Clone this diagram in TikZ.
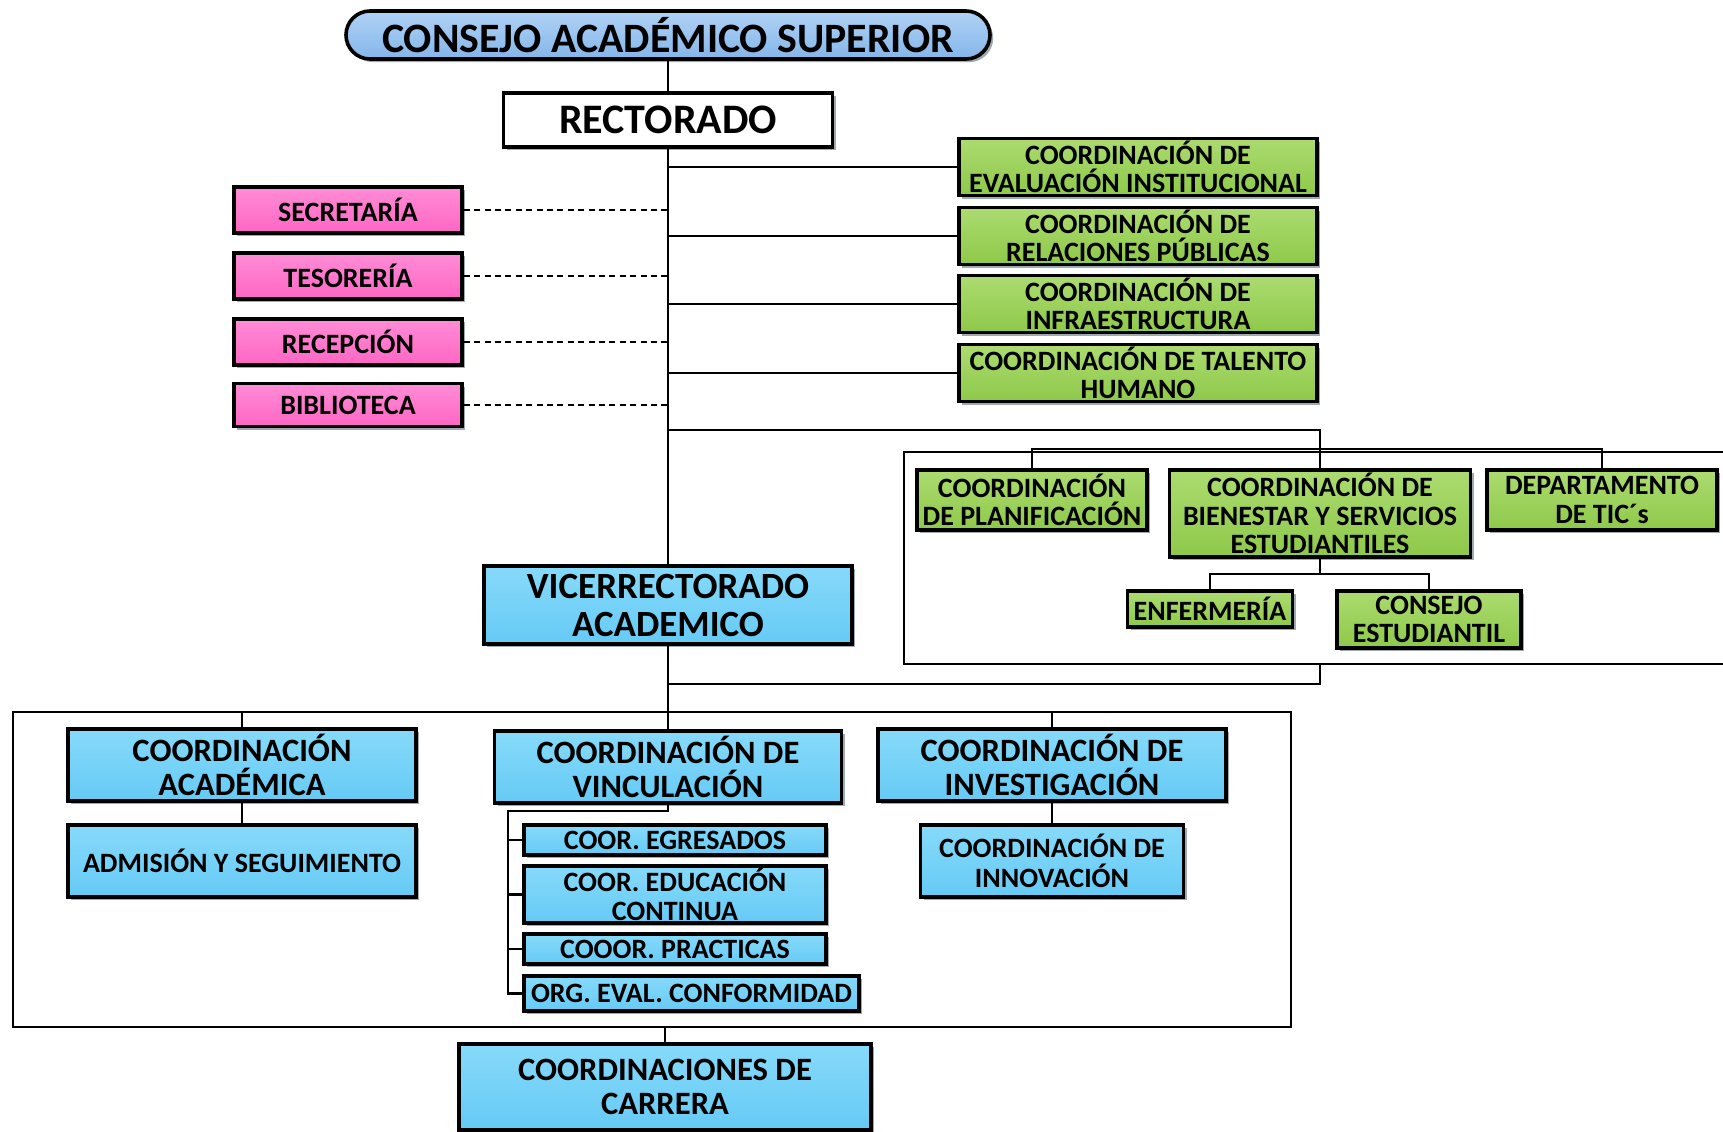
\documentclass[tikz,border=0pt]{standalone}
\usepackage{fontspec}
\setmainfont{Carlito}
\usetikzlibrary{shadows}

\definecolor{bluetop}{RGB}{134,218,250}
\definecolor{bluebot}{RGB}{102,202,245}
\definecolor{greentop}{RGB}{172,219,112}
\definecolor{greenbot}{RGB}{142,201,74}
\definecolor{pinktop}{RGB}{255,140,214}
\definecolor{pinkbot}{RGB}{255,102,196}
\definecolor{headtop}{RGB}{176,210,245}
\definecolor{headbot}{RGB}{132,182,234}
\definecolor{shadowgray}{RGB}{150,160,168}

\tikzset{
  box/.style={draw=black, line width=1.8pt, inner sep=0pt, align=center,
    drop shadow={shadow xshift=1.6pt, shadow yshift=-1.6pt, fill=shadowgray, opacity=0.9}},
  bluebox/.style={box, top color=bluetop, bottom color=bluebot},
  greenbox/.style={box, top color=greentop, bottom color=greenbot},
  pinkbox/.style={box, top color=pinktop, bottom color=pinkbot},
  orgline/.style={line width=1.4pt, black},
  dotline/.style={line width=1.4pt, black, dash pattern=on 3pt off 2.2pt},
  txtbig/.style={font=\bfseries\fontsize{18.5}{19}\selectfont},
  txtmid/.style={font=\bfseries\fontsize{16.3}{17}\selectfont},
  txtsmall/.style={font=\bfseries\fontsize{14}{14.3}\selectfont}
}

\begin{document}
\begin{tikzpicture}[x=0.5pt,y=-0.5pt]
\useasboundingbox (0,0) rectangle (1723,1131);

% top of the chart
\node[box, rounded corners=12pt, top color=headtop, bottom color=headbot,
  minimum width=322pt, minimum height=24pt,
  font=\bfseries\fontsize{20.9}{22}\selectfont] (consejo) at (668,35) {CONSEJO ACADÉMICO SUPERIOR};
\node[box, fill=white, minimum width=164.5pt, minimum height=27pt,
  font=\bfseries\fontsize{21}{24}\selectfont] (rector) at (668,120) {RECTORADO};

% staff offices (left)
\node[pinkbox, txtsmall, minimum width=114pt, minimum height=23pt] (sec) at (348,210) {SECRETARÍA};
\node[pinkbox, txtsmall, minimum width=114pt, minimum height=23pt] (tes) at (348,276) {TESORERÍA};
\node[pinkbox, txtsmall, minimum width=114pt, minimum height=23pt] (rec) at (348,342) {RECEPCIÓN};
\node[pinkbox, txtsmall, minimum width=114pt, minimum height=21.5pt] (bib) at (348,405) {BIBLIOTECA};

% coordinations (right)
\node[greenbox, txtsmall, minimum width=179pt, minimum height=28.5pt] (ev) at (1138,167) {COORDINACIÓN DE\\EVALUACIÓN INSTITUCIONAL};
\node[greenbox, txtsmall, minimum width=179pt, minimum height=28.5pt] (rp) at (1138,236) {COORDINACIÓN DE\\RELACIONES PÚBLICAS};
\node[greenbox, txtsmall, minimum width=179pt, minimum height=28.5pt] (inf) at (1138,304) {COORDINACIÓN DE\\INFRAESTRUCTURA};
\node[greenbox, txtsmall, minimum width=179pt, minimum height=28.5pt] (th) at (1138,373) {COORDINACIÓN DE TALENTO\\HUMANO};

% planning and student services
\node[greenbox, txtsmall, minimum width=115pt, minimum height=30pt] (plan) at (1032,500) {COORDINACIÓN\\DE PLANIFICACIÓN};
\node[greenbox, txtsmall, minimum width=150.5pt, minimum height=43.5pt] (bien) at (1320,513.5) {COORDINACIÓN DE\\BIENESTAR Y SERVICIOS\\ESTUDIANTILES};
\node[greenbox, txtsmall, minimum width=115pt, minimum height=30pt] (tic) at (1602,500) {DEPARTAMENTO\\DE TIC´s};
\node[greenbox, txtsmall, minimum width=82.5pt, minimum height=18pt] (enf) at (1210,609) {ENFERMERÍA};
\node[greenbox, txtsmall, minimum width=92pt, minimum height=28.5pt] (cest) at (1429,619.5) {CONSEJO\\ESTUDIANTIL};

\node[bluebox, txtbig, minimum width=184pt, minimum height=39pt] (vice) at (668,605) {VICERRECTORADO\\ACADEMICO};

% academic area
\node[bluebox, txtmid, minimum width=174pt, minimum height=36pt] (acad) at (242,765) {COORDINACIÓN\\ACADÉMICA};
\node[bluebox, txtsmall, minimum width=174pt, minimum height=36pt] (admis) at (242,861) {ADMISIÓN Y SEGUIMIENTO};
\node[bluebox, txtmid, minimum width=173.5pt, minimum height=36pt] (vinc) at (668,767) {COORDINACIÓN DE\\VINCULACIÓN};
\node[bluebox, txtmid, minimum width=174pt, minimum height=36pt] (invest) at (1052,765) {COORDINACIÓN DE\\INVESTIGACIÓN};
\node[bluebox, font=\bfseries\fontsize{14}{14.8}\selectfont, minimum width=131.5pt, minimum height=36pt] (innov) at (1052,861) {COORDINACIÓN DE\\INNOVACIÓN};

\node[bluebox, txtsmall, minimum width=151pt, minimum height=15pt] (egr) at (675,840) {COOR. EGRESADOS};
\node[bluebox, txtsmall, minimum width=151pt, minimum height=28.5pt] (edu) at (675,894.5) {COOR. EDUCACIÓN\\CONTINUA};
\node[bluebox, txtsmall, minimum width=151pt, minimum height=15pt] (pra) at (675,949) {COOOR. PRACTICAS};
\node[bluebox, txtsmall, minimum width=167.5pt, minimum height=17.5pt] (org) at (691.5,993.5) {ORG. EVAL. CONFORMIDAD};

\node[bluebox, txtmid, minimum width=206pt, minimum height=43pt] (carrera) at (665,1087) {COORDINACIONES DE\\CARRERA};

% frames
\draw[orgline] (13,712) rectangle (1291,1027);
\draw[orgline] (1723,452) -- (904,452) -- (904,664) -- (1723,664);

% connectors
\coordinate (rbr) at (668,430);
\coordinate (rbus) at (1320,449);
\coordinate (bbus) at (1320,574);
\coordinate (vjoin) at (668,684);
\coordinate (fjoin) at (1320,664);
\coordinate (lbus) at (668,712);
\coordinate (vsub) at (508,811);
\coordinate (lfbot) at (665,1027);

\draw[orgline] (consejo.south) -- (rector.north);
\draw[orgline] (rector.south) -- (vice.north);
\foreach \n in {ev,rp,inf,th}
  \draw[orgline] (rector.south |- \n.west) -- (\n.west);
\foreach \n in {sec,tes,rec,bib}
  \draw[dotline] (\n.east) -- (\n.east -| rector.south);

\draw[orgline] (rbr) -| (bien.north);
\draw[orgline] (plan.north) |- (rbus) -| (tic.north);
\draw[orgline] (bien.south) -- (bbus);
\draw[orgline] (enf.north) |- (bbus) -| (cest.north);
\draw[orgline] (vjoin) -| (fjoin);

\draw[orgline] (vice.south) -- (lbus);
\draw[orgline] (acad.north) |- (lbus) -| (invest.north);
\draw[orgline] (vinc.north) -- (lbus);
\draw[orgline] (acad.south) -- (admis.north);
\draw[orgline] (invest.south) -- (innov.north);
\draw[orgline] (vinc.south) |- (vsub) |- (org.west);
\foreach \n in {egr,edu,pra}
  \draw[orgline] (vsub |- \n.west) -- (\n.west);
\draw[orgline] (lfbot) -- (carrera.north);
\end{tikzpicture}
\end{document}
